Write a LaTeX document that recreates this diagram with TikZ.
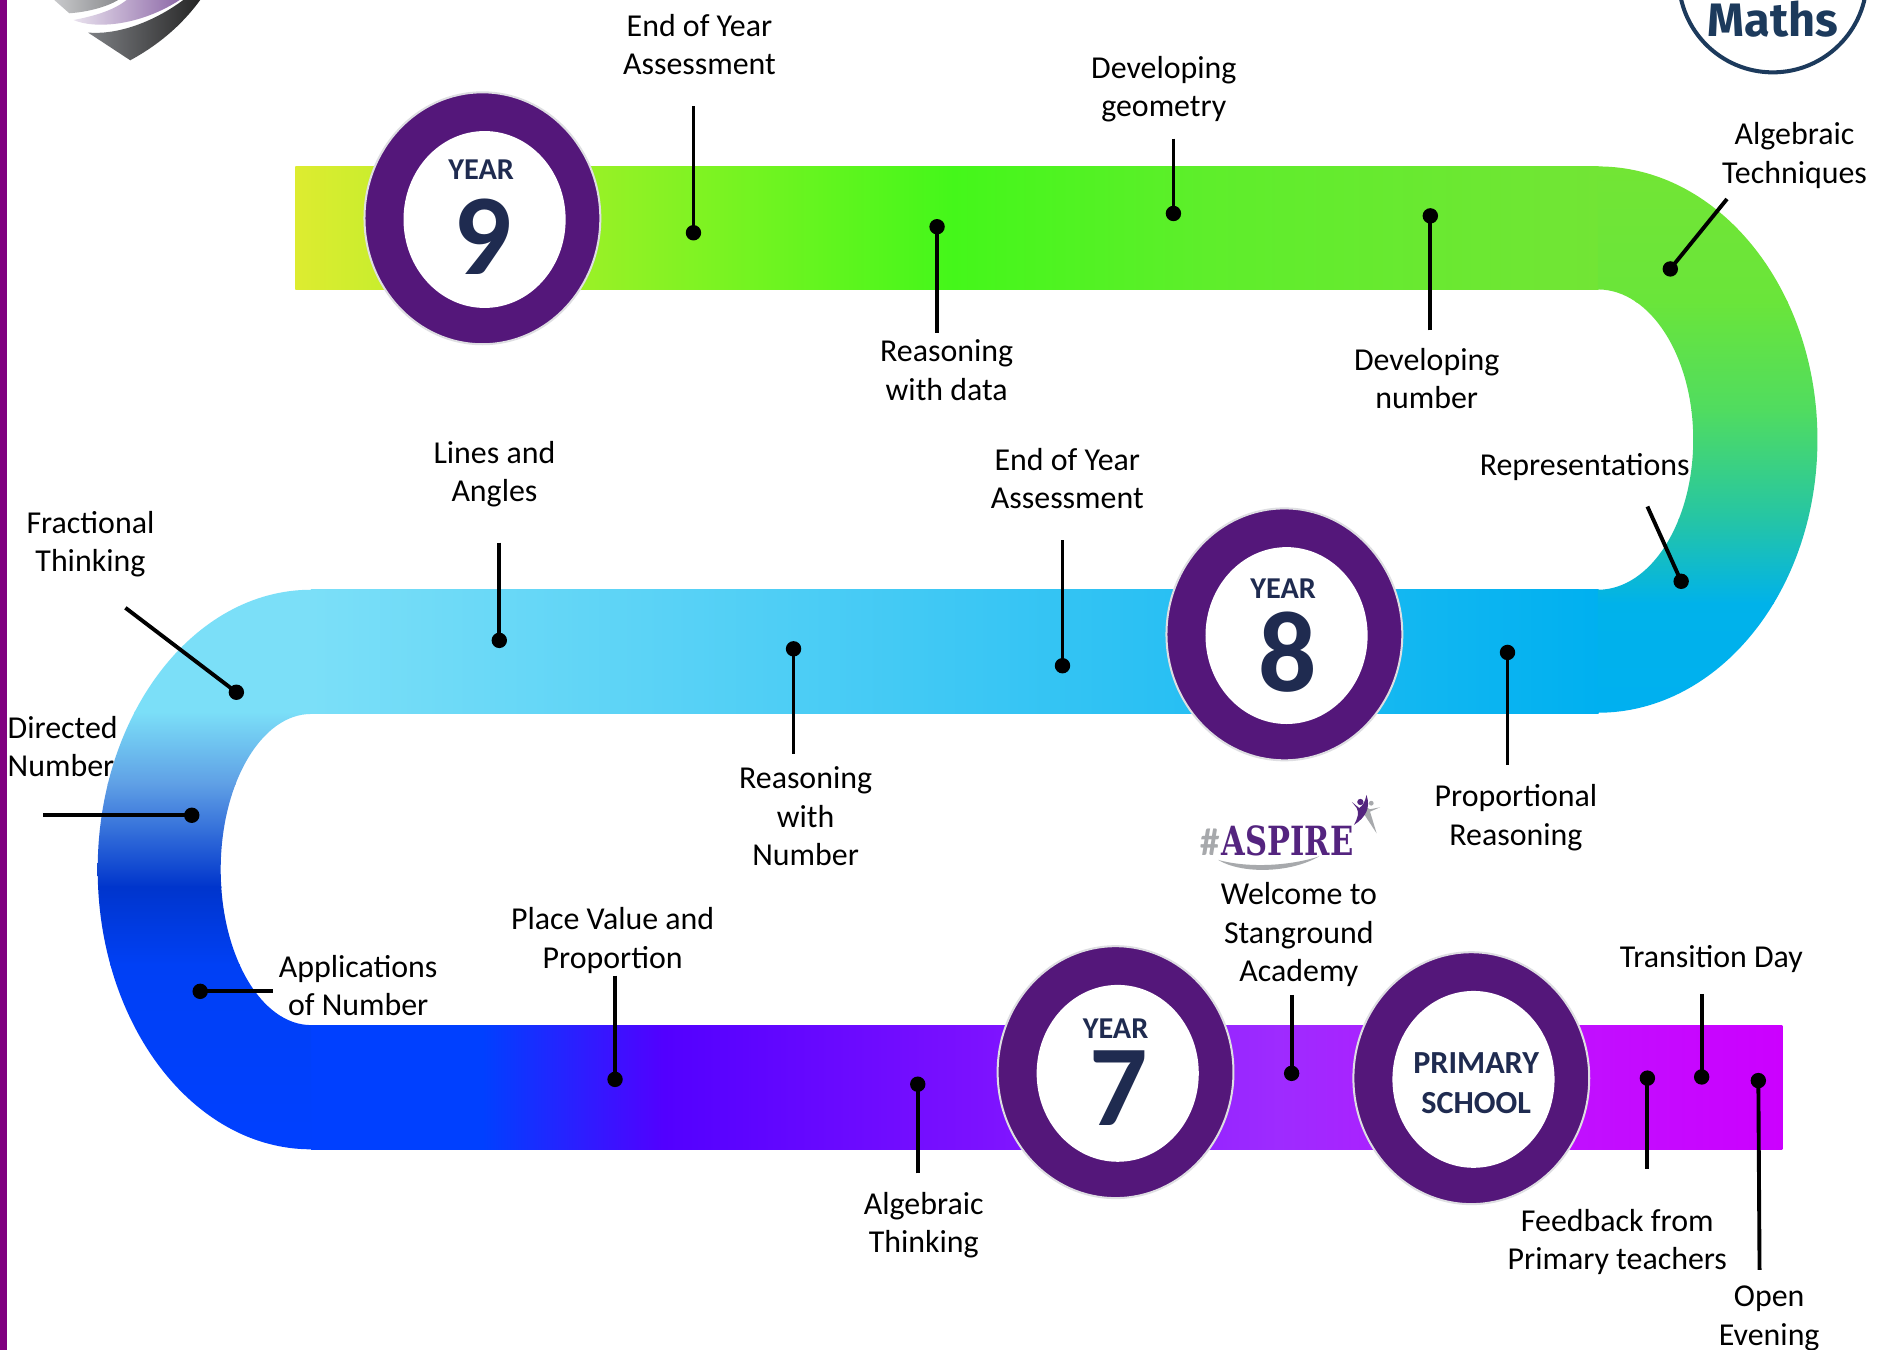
\documentclass[tikz,border=0pt]{standalone}
\usepackage{fontspec}
\setmainfont{Carlito}
\newfontfamily\logofont{DejaVu Serif}
\newfontfamily\mathsfont{Fira Sans}
\usetikzlibrary{shapes.geometric}
\definecolor{ringp}{HTML}{54177A}
\definecolor{navy}{HTML}{1F2B50}
\definecolor{aspp}{HTML}{54247F}
\definecolor{aspg}{HTML}{A7A9AC}
\definecolor{mathsc}{HTML}{1C3A5C}
\definecolor{edgeg}{HTML}{DEDEE2}
\definecolor{barp}{HTML}{800080}
\definecolor{shpa}{HTML}{E9E2EE}
\definecolor{shpb}{HTML}{8E6AA8}
\definecolor{shga}{HTML}{C8C9CB}
\definecolor{shgb}{HTML}{8A8B8E}
\definecolor{shda}{HTML}{7D7F83}
\definecolor{shdb}{HTML}{262626}
\newcommand{\hseg}[4]{\definecolor{hsa}{HTML}{#3}\definecolor{hsb}{HTML}{#4}\shade[left color=hsa,right color=hsb] (#1,\bt) rectangle (#2,\bb);}
\newcommand{\vseg}[4]{\definecolor{hsa}{HTML}{#3}\definecolor{hsb}{HTML}{#4}\shade[top color=hsa,bottom color=hsb] (\al,#1) rectangle (\ar,#2);}
\newcommand{\yearbadge}[3]{%
  \node[ringouter] (#1) at (#2,#3) {};
  \node[ringinner] (#1i) at ([shift={(1.8,1)}]#2,#3) {};
}
\tikzset{
  ringouter/.style={ellipse,draw=edgeg,line width=1.5pt,fill=ringp,minimum width=176pt,minimum height=188pt,inner sep=0pt},
  ringinner/.style={ellipse,fill=white,minimum width=121pt,minimum height=132pt,inner sep=0pt},
  lab/.style={align=center,font=\fontsize{23.8}{28.7}\selectfont,text=black,inner sep=0pt},
  yr/.style={font=\fontsize{22.6}{28}\selectfont\bfseries,text=navy,inner sep=0pt},
  num/.style={font=\fontsize{86}{90}\selectfont\bfseries,text=navy,inner sep=0pt},
  conn/.style={line width=2.9pt,black},
  dot/.style={circle,fill=black,minimum size=11.5pt,inner sep=0pt},
}
\begin{document}
\begin{tikzpicture}[x=0.9pt,y=-0.9pt]
\useasboundingbox (0,0) rectangle (1568,1119);
\clip (0,0) rectangle (1568,1119);
\fill[white] (0,0) rectangle (1568,1119);
% left edge bar
\fill[barp] (0,0) rectangle (6,1119);
% shield logo
\shade[left color=shga,right color=shgb] (45,0) -- (57.5,11) .. controls (72,10) and (88,6) .. (98,0) -- cycle;
\shade[left color=shpa,right color=shpb] (61,16.6) .. controls (78,24) and (115,22) .. (149,0) -- (105,0) .. controls (95,8) and (80,13) .. (61,16.6) -- cycle;
\shade[left color=shda,right color=shdb] (73,27) .. controls (95,29) and (125,20) .. (152,0) -- (166,0) .. controls (150,22) and (130,38) .. (108,50) -- cycle;
% Maths badge
\draw[mathsc,line width=3pt] (1470,-18) circle [radius=78];
\node[inner sep=0pt,anchor=base,text=mathsc,font=\fontsize{35}{40}\selectfont\mathsfont\bfseries] (mathslogo) at (1470,30) {Maths};
% top band
\def\bt{138}\def\bb{240}
\hseg{245}{790.5}{DDEC30}{44F71A}
\hseg{790}{1000.5}{44F71A}{5EEE2B}
\hseg{1000}{1325.5}{5EEE2B}{72E535}
% middle band
\def\bt{489}\def\bb{592}
\hseg{258}{1325.5}{7BDFF8}{00B0F0}
% bottom band
\def\bt{850}\def\bb{953}
\hseg{258}{400.5}{0040FF}{0040FF}
\hseg{400}{550.5}{0040FF}{5200FF}
\hseg{550}{800.5}{5200FF}{7A10FF}
\hseg{800}{1060.5}{7A10FF}{9E2BFF}
\hseg{1060}{1300.5}{9E2BFF}{C010FF}
\hseg{1300}{1478}{C010FF}{CC00FF}
% right bend
\begin{scope}
\clip (1325,138) .. controls (1425.5,138) and (1507,239.4) .. (1507,364.5) .. controls (1507,489.6) and (1425.5,591) .. (1325,591) -- (1325,489) .. controls (1368.6,489) and (1404,433.3) .. (1404,364.5) .. controls (1404,295.7) and (1368.6,240) .. (1325,240) -- cycle;
\def\al{1320}\def\ar{1510}
\vseg{138}{250.5}{72E535}{6AE53A}
\vseg{250}{340.5}{6AE53A}{50DC60}
\vseg{340}{430.5}{50DC60}{25C5A5}
\vseg{430}{500.5}{25C5A5}{00B2EA}
\vseg{500}{592}{00B2EA}{00B0F0}
\end{scope}
% left bend
\begin{scope}
\clip (258,489) .. controls (160.2,489) and (81,592.9) .. (81,721) .. controls (81,849.1) and (160.2,953) .. (258,953) -- (258,850) .. controls (216.6,850) and (183,792.2) .. (183,721) .. controls (183,649.8) and (216.6,592) .. (258,592) -- cycle;
\def\al{78}\def\ar{262}
\vseg{489}{590.5}{7BDFF8}{7BDFF8}
\vseg{590}{650.5}{7BDFF8}{5F9FE5}
\vseg{650}{735.5}{5F9FE5}{0035CC}
\vseg{735}{800.5}{0035CC}{0040F5}
\vseg{800}{953}{0040F5}{0040FF}
\end{scope}
% badges
\yearbadge{y9}{400}{181}
\yearbadge{y8}{1065}{526}
\yearbadge{y7}{925}{889}
\yearbadge{ps}{1220}{894}
\node[yr,anchor=base] (y9t) at (399,149) {YEAR};
\node[num,anchor=base] (y9n) at (400,228) {9};
\node[yr,anchor=base] (y8t) at (1064,496) {YEAR};
\node[num,anchor=base] (y8n) at (1068,573) {8};
\node[yr,anchor=base] (y7t) at (925,861) {YEAR};
\node[num,anchor=base] (y7n) at (928,933) {7};
\node[yr,align=center,font=\fontsize{24}{30}\selectfont\bfseries] (pst) at (1224,898) {PRIMARY\\SCHOOL};
% ASPIRE logo
\node[inner sep=0pt,anchor=base west,text=aspg,font=\fontsize{29}{30}\selectfont\bfseries] (asph) at (995,709) {\#};
\node[inner sep=0pt,anchor=base west,text=aspp,xscale=0.76,font=\fontsize{30}{35}\selectfont\logofont\bfseries] (aspt) at (1013,709) {ASPIRE};
\fill[aspg] (1010,713) .. controls (1030,725) and (1070,724) .. (1094,710) .. controls (1070,718) and (1035,720) .. (1010,713) -- cycle;
\fill[aspg] (1144.3,669.4) -- (1136,673) -- (1141.5,691) -- (1131,675) -- (1130,668) -- (1136,671) -- cycle;
\fill[aspg] (1137,666) circle [radius=2];
\fill[aspp] (1133,659) .. controls (1137,670) and (1132,678) .. (1122.7,684) .. controls (1126,678) and (1127,674) .. (1125,670) -- (1121,665) -- (1127,670) .. controls (1130,668) and (1132,665) .. (1133,659) -- cycle;
\fill[aspp] (1128,665) circle [radius=2.6];
% labels
\node[lab] (l1) at (580,37) {End of Year\\Assessment};
\node[lab] (l2) at (965,74) {Developing\\geometry};
\node[lab] (l3) at (1488,129) {Algebraic\\Techniques};
\node[lab] (l4) at (785,307) {Reasoning\\with data};
\node[lab] (l5) at (1183,314) {Developing\\number};
\node[lab] (l6) at (1314,387) {Representations};
\node[lab] (l7) at (410,393) {Lines and\\Angles};
\node[lab] (l8) at (885,397) {End of Year\\Assessment};
\node[lab] (l9) at (75,451) {Fractional\\Thinking};
\node[lab,align=left] (l10) at (52,619) {Directed\\Number};
\node[lab] (l11) at (668,677) {Reasoning\\with\\Number};
\node[lab] (l12) at (1257,678) {Proportional\\Reasoning};
\node[lab] (l13) at (1077,775) {Welcome to\\Stanground\\Academy};
\node[lab] (l14) at (508,780) {Place Value and\\Proportion};
\node[lab] (l15) at (297,817) {Applications\\of Number};
\node[lab] (l16) at (1419,795) {Transition Day};
\node[lab] (l17) at (766,1016) {Algebraic\\Thinking};
\node[lab] (l18) at (1341,1030) {Feedback from\\Primary teachers};
\node[lab] (l19) at (1467,1093) {Open\\Evening};
% connectors
\foreach \n/\ax/\ay/\bx/\by in {
 1/575/88/575/193, 2/973/115/973/177, 3/1432/165/1385/223, 4/777/276/777/188,
 5/1186/274/1186/179, 6/1366/420/1394/482, 7/414/450/414/531, 8/881/448/881/552,
 9/104/504/196/574, 10/36/676/159/676, 11/658/625/658/538, 12/1250/634/1250/541,
 13/1071/825/1071/890, 14/510/809/510/895, 15/226/822/166/822, 16/1411/824/1411/893,
 17/761/973/761/899, 18/1366/969/1366/894, 19/1459/1053/1458/896}{
  \coordinate (c\n) at (\ax,\ay);
  \node[dot] (d\n) at (\bx,\by) {};
  \draw[conn] (c\n) -- (d\n.center);
}
\end{tikzpicture}
\end{document}
